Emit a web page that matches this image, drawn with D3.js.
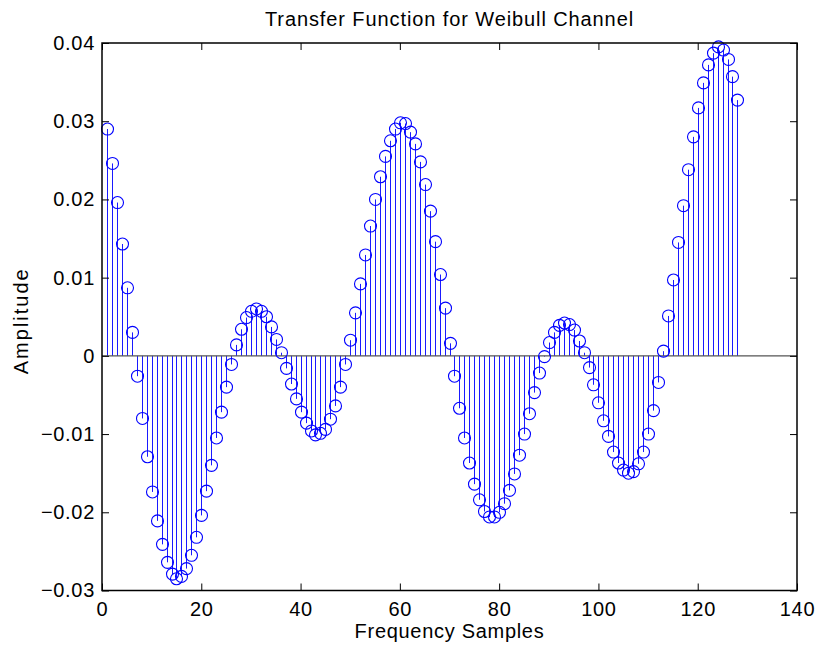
<!DOCTYPE html>
<html>
<head>
<meta charset="utf-8">
<script src="https://cdn.jsdelivr.net/npm/d3@7"></script>
<style>
  html, body { margin: 0; padding: 0; background: #fff; }
  svg { display: block; }
  text { font-family: "Liberation Sans", Arial, Helvetica, sans-serif; fill: #000; }
</style>
</head>
<body>
<svg id="chart" width="817" height="648"></svg>
<script>
const titleText = "Transfer Function for Weibull Channel";
const xLabelText = "Frequency Samples";
const yLabelText = "Amplitude";

const xTickValues = [0, 20, 40, 60, 80, 100, 120, 140];
const xTickLabels = ["0", "20", "40", "60", "80", "100", "120", "140"];
const yTickValues = [-0.03, -0.02, -0.01, 0, 0.01, 0.02, 0.03, 0.04];
const yTickLabels = ["\u22120.03", "\u22120.02", "\u22120.01", "0", "0.01", "0.02", "0.03", "0.04"];

// Sample amplitudes, samples 1..128
const amplitudes = [
  0.0290, 0.0246, 0.0196, 0.0143, 0.0087, 0.0030, -0.0026, -0.0080, -0.0129, -0.0174,
  -0.0211, -0.0241, -0.0264, -0.0279, -0.0285, -0.0282, -0.0272, -0.0255, -0.0232, -0.0204,
  -0.0173, -0.0140, -0.0105, -0.0072, -0.0040, -0.0011, 0.0014, 0.0034, 0.0049, 0.0057,
  0.0060, 0.0057, 0.0050, 0.0037, 0.0021, 0.0004, -0.0016, -0.0036, -0.0055, -0.0072,
  -0.0086, -0.0096, -0.0101, -0.0099, -0.0094, -0.0081, -0.0064, -0.0040, -0.0011, 0.0020,
  0.0055, 0.0092, 0.0129, 0.0166, 0.0200, 0.0229, 0.0255, 0.0275, 0.0290, 0.0298,
  0.0297, 0.0286, 0.0271, 0.0248, 0.0219, 0.0185, 0.0146, 0.0104, 0.0061, 0.0016,
  -0.0026, -0.0067, -0.0105, -0.0137, -0.0164, -0.0184, -0.0199, -0.0206, -0.0206, -0.0200,
  -0.0189, -0.0172, -0.0151, -0.0127, -0.0100, -0.0074, -0.0047, -0.0022, -0.0001, 0.0017,
  0.0030, 0.0039, 0.0042, 0.0040, 0.0033, 0.0019, 0.0004, -0.0015, -0.0037, -0.0060,
  -0.0083, -0.0103, -0.0123, -0.0137, -0.0146, -0.0150, -0.0148, -0.0138, -0.0123, -0.0100,
  -0.0070, -0.0034, 0.0006, 0.0051, 0.0097, 0.0145, 0.0192, 0.0238, 0.0280, 0.0317,
  0.0349, 0.0372, 0.0387, 0.0395, 0.0391, 0.0379, 0.0357, 0.0327
];

const data = amplitudes.map((v, i) => ({ n: i + 1, v: v }));

const svg = d3.select("#chart");
const L = 102, R = 797, T = 43, B = 590.5;
const fontSize = 20;
const spacing = 0.7;

const x = d3.scaleLinear().domain([0, 140]).range([L, R]);
const y = d3.scaleLinear().domain([-0.03, 0.04]).range([B, T]);

// stems
svg.append("g")
  .selectAll("line")
  .data(data)
  .join("line")
  .attr("x1", d => Math.round(x(d.n)) + 0.5)
  .attr("x2", d => Math.round(x(d.n)) + 0.5)
  .attr("y1", y(0))
  .attr("y2", d => y(d.v))
  .attr("stroke", "#1a1aff")
  .attr("stroke-width", 1);

// baseline
svg.append("line")
  .attr("x1", x(0)).attr("x2", x(140))
  .attr("y1", y(0)).attr("y2", y(0))
  .attr("stroke", "#555")
  .attr("stroke-width", 1.2);

// markers
svg.append("g")
  .selectAll("circle")
  .data(data)
  .join("circle")
  .attr("cx", d => Math.round(x(d.n)) + 0.5)
  .attr("cy", d => y(d.v))
  .attr("r", 6)
  .attr("fill", "none")
  .attr("stroke", "#0000ff")
  .attr("stroke-width", 1.1);

// axes
const tickLen = 7;
const xFmt = d => xTickLabels[xTickValues.indexOf(d)];
const yFmt = d => yTickLabels[yTickValues.indexOf(d)];

const gx = svg.append("g").attr("transform", `translate(0,${B})`)
  .call(d3.axisBottom(x).tickValues(xTickValues).tickFormat(xFmt).tickSizeInner(-tickLen).tickSizeOuter(0).tickPadding(11));
const gxTop = svg.append("g").attr("transform", `translate(0,${T})`)
  .call(d3.axisTop(x).tickValues(xTickValues).tickFormat("").tickSizeInner(-tickLen).tickSizeOuter(0));
const gy = svg.append("g").attr("transform", `translate(${L},0)`)
  .call(d3.axisLeft(y).tickValues(yTickValues).tickFormat(yFmt).tickSizeInner(-tickLen).tickSizeOuter(0).tickPadding(7));
const gyRight = svg.append("g").attr("transform", `translate(${R},0)`)
  .call(d3.axisRight(y).tickValues(yTickValues).tickFormat("").tickSizeInner(-tickLen).tickSizeOuter(0));

[gx, gxTop, gy, gyRight].forEach(g => {
  g.select(".domain").remove();
  g.selectAll(".tick line").attr("stroke", "#000").attr("stroke-width", 1);
  g.selectAll("text").attr("font-size", fontSize).attr("fill", "#000")
    .attr("letter-spacing", spacing)
    .attr("font-family", '"Liberation Sans", Arial, Helvetica, sans-serif');
});

// box
svg.append("rect")
  .attr("x", L).attr("y", T)
  .attr("width", R - L).attr("height", B - T)
  .attr("fill", "none")
  .attr("stroke", "#000")
  .attr("stroke-width", 1.5);

// title
svg.append("text")
  .attr("x", (L + R) / 2).attr("y", 26)
  .attr("text-anchor", "middle")
  .attr("font-size", fontSize)
  .attr("letter-spacing", 0.9)
  .text(titleText);

// x label
svg.append("text")
  .attr("x", (L + R) / 2).attr("y", 638)
  .attr("text-anchor", "middle")
  .attr("font-size", fontSize)
  .attr("letter-spacing", spacing)
  .text(xLabelText);

// y label
svg.append("text")
  .attr("transform", `translate(28,${(T + B) / 2 + 4}) rotate(-90)`)
  .attr("text-anchor", "middle")
  .attr("font-size", fontSize)
  .attr("letter-spacing", 2)
  .text(yLabelText);
</script>
</body>
</html>
